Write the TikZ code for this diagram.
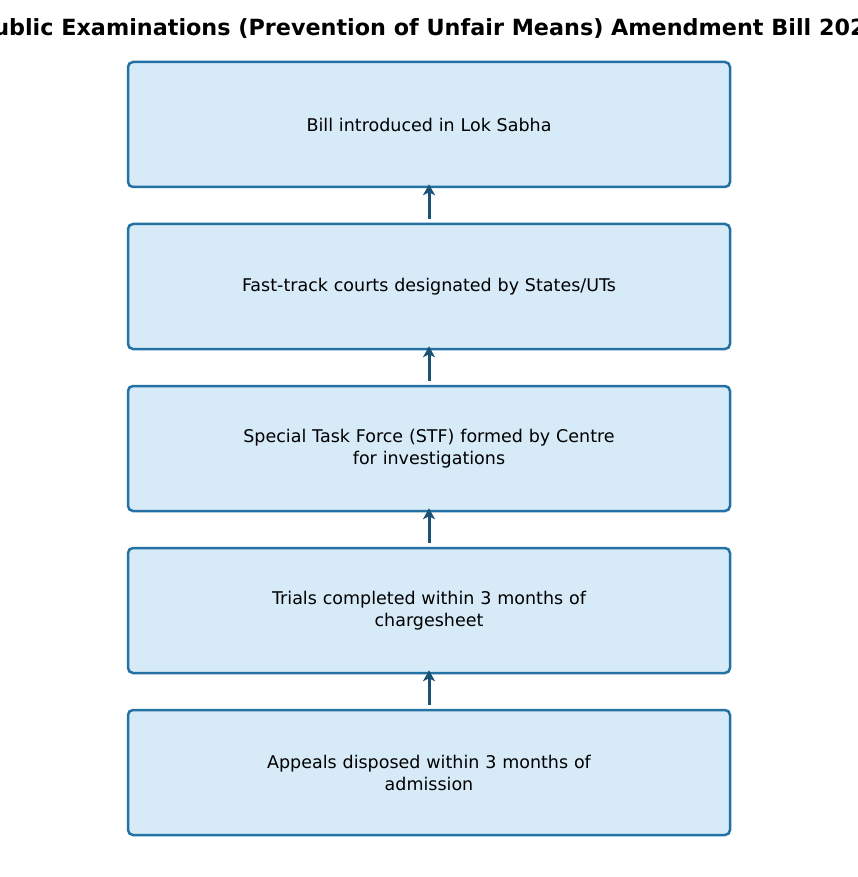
\documentclass[tikz,border=0pt]{standalone}
\usepackage{fontspec}
\setmainfont{DejaVu Sans}
\usetikzlibrary{arrows.meta}
\definecolor{boxborder}{HTML}{2471A3}
\definecolor{boxfill}{HTML}{D6EAF8}
\definecolor{arrowcol}{HTML}{1A5276}
\tikzset{
  stepbox/.style={draw=boxborder, fill=boxfill, line width=2.5pt, rounded corners=5pt,
    minimum width=602pt, minimum height=125pt, align=center, inner sep=0pt,
    font=\fontsize{17.5}{22}\selectfont, text width=500pt},
  flow/.style={draw=arrowcol, line width=3pt, -{Stealth[length=11pt,width=12pt,inset=3pt]}}
}
\begin{document}
\begin{tikzpicture}[x=1pt,y=-1pt]
\useasboundingbox (0,0) rectangle (858,877);
\clip (0,0) rectangle (858,877);
\node[font=\fontsize{22.3}{26}\selectfont\bfseries] (title) at (429,29) {Public Examinations (Prevention of Unfair Means) Amendment Bill 2024};
\node[stepbox] (b1) at (429,124.5) {Bill introduced in Lok Sabha};
\node[stepbox] (b2) at (429,286.5) {Fast-track courts designated by States/UTs};
\node[stepbox] (b3) at (429,448.5) {Special Task Force (STF) formed by Centre\\for investigations};
\node[stepbox] (b4) at (429,610.5) {Trials completed within 3 months of\\chargesheet};
\node[stepbox] (b5) at (429,772.5) {Appeals disposed within 3 months of\\admission};
\draw[flow] ([yshift=4pt]b2.north) -- ([yshift=4pt]b1.south);
\draw[flow] ([yshift=4pt]b3.north) -- ([yshift=4pt]b2.south);
\draw[flow] ([yshift=4pt]b4.north) -- ([yshift=4pt]b3.south);
\draw[flow] ([yshift=4pt]b5.north) -- ([yshift=4pt]b4.south);
\end{tikzpicture}
\end{document}
